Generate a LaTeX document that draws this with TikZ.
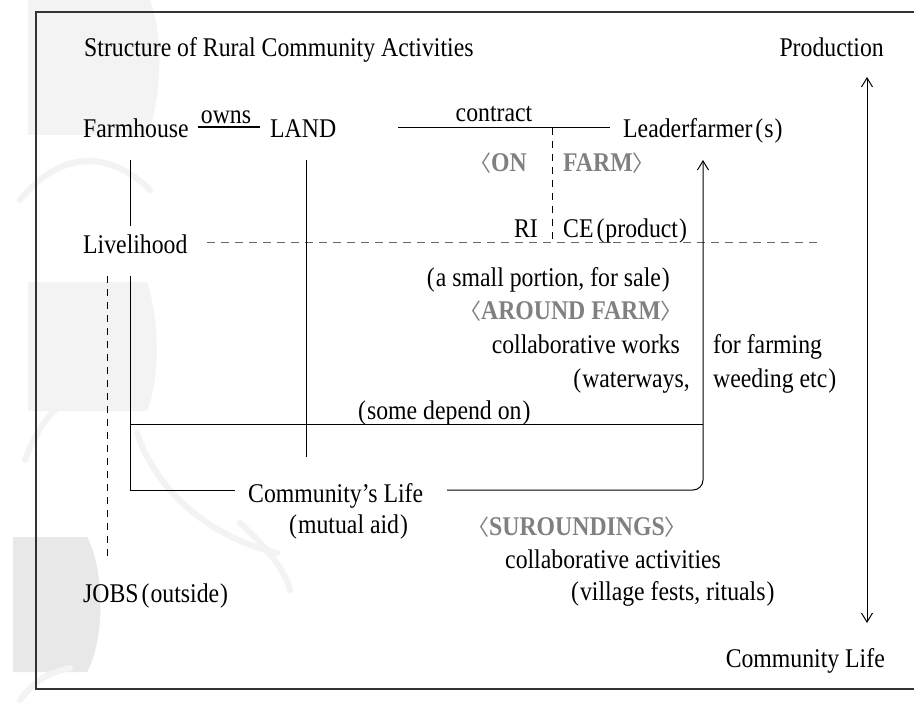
\documentclass[tikz,border=0pt]{standalone}
\usepackage{fontspec}
\setmainfont{Liberation Serif}[FakeStretch=0.88]
\newfontfamily\cjk{Noto Sans CJK JP}
\usetikzlibrary{arrows.meta}

\definecolor{labgray}{HTML}{808080}
\definecolor{framegray}{HTML}{333333}
\definecolor{wmark}{HTML}{F3F3F3}
\definecolor{wmarkdark}{HTML}{E8E8E8}

% bracket and parenthesis helpers
\newcommand{\fwl}{\hspace{3pt}(\hspace{1pt}}
\newcommand{\fwr}{\hspace{1pt})\hspace{3pt}}
\newcommand{\abl}{{\cjk\mdseries\fontsize{22}{26}\selectfont 〈}}
\newcommand{\abr}{{\cjk\mdseries\fontsize{22}{26}\selectfont 〉}}

\tikzset{
  txt/.style={inner sep=0pt, anchor=base west, font=\fontsize{27}{30}\selectfont},
  lab/.style={txt, text=labgray, font=\fontsize{27}{30}\selectfont\bfseries},
  ln/.style={line width=1pt, black},
  ownsln/.style={line width=2.4pt, black},
  dashblk/.style={line width=1pt, black, dash pattern=on 7pt off 6pt},
  dashgry/.style={line width=1pt, black!60, dash pattern=on 8pt off 6pt},
  barb/.tip={Straight Barb[length=9pt, width=11pt, line width=1pt]},
  framestyle/.style={line width=1.3pt, framegray},
  wm/.style={fill=wmark, draw=none},
  wmline/.style={draw=wmark, line width=6pt, line cap=round},
}

\begin{document}
\begin{tikzpicture}[x=1pt, y=-1pt]
\useasboundingbox (0,0) rectangle (914,706);
\fill[white] (0,0) rectangle (914,706);

% faint background ornaments on the left margin
\fill[wm] (28,0) -- (150,0) .. controls (165,40) and (160,100) .. (148,135) -- (28,135) -- cycle;
\fill[wm] (28,282) -- (147,282) .. controls (160,320) and (160,380) .. (147,411) -- (28,411) -- cycle;
\fill[wmarkdark] (13,537) -- (87,537) .. controls (105,570) and (105,640) .. (87,672) -- (13,672) -- cycle;
\draw[wmline] (20,200) .. controls (60,150) and (110,150) .. (150,190);
\draw[wmline] (137,433) .. controls (160,500) and (220,540) .. (277,553);
\draw[wmline] (240,523) .. controls (265,545) and (285,570) .. (290,590);
\draw[wmline] (25,460) .. controls (40,420) and (60,400) .. (80,395);
\draw[wmline] (20,700) .. controls (35,680) and (50,672) .. (70,668);

% open frame
\draw[framestyle] (914,12) -- (36,12) -- (36,689) -- (914,689);

% texts
\node[txt] (title) at (84,57) {Structure of Rural Community Activities};
\node[txt, anchor=base east] (prod) at (884,57) {Production};
\node[txt, anchor=base east] (clife) at (885,667) {Community Life};

\node[txt] (farm) at (83,138) {Farmhouse};
\node[txt, anchor=base] (owns) at (226,124) {owns};
\node[txt] (land) at (270,138) {LAND};
\node[txt, anchor=base] (contract) at (494,122) {contract};
\node[txt] (leader) at (623,138) {Leaderfarmer\fwl s\fwr};

\node[lab, anchor=base east] (onl) at (527,172) {\abl ON};
\node[lab] (onr) at (563,172) {FARM\abr};
\node[txt, anchor=base east] (ri) at (538,237) {RI};
\node[txt] (ce) at (563,237) {CE\fwl product\fwr};

\node[txt] (live) at (83,254) {Livelihood};

\node[txt, anchor=base east] (sale) at (670,287) {\fwl a small portion, for sale\fwr};
\node[lab, anchor=base east] (around) at (683,319) {\abl AROUND FARM\abr};
\node[txt, anchor=base east] (collw) at (680,353) {collaborative works};
\node[txt] (forf) at (713,353) {for farming};
\node[txt, anchor=base east] (water) at (690,387) {\fwl waterways,};
\node[txt] (weed) at (713,387) {weeding etc\fwr};
\node[txt] (some) at (355,419) {\fwl some depend on\fwr};

\node[txt] (comm) at (248,502) {Community's Life};
\node[txt] (mutual) at (286,533) {\fwl mutual aid\fwr};
\node[lab] (sur) at (467,535) {\abl SUROUNDINGS\abr};
\node[txt] (colla) at (505,568) {collaborative activities};
\node[txt] (village) at (568,600) {\fwl village fests, rituals\fwr};
\node[txt] (jobs) at (83,602) {JOBS\fwl outside\fwr};

% connector end points
\coordinate (ownsA) at (198,127);
\coordinate (ownsB) at (260,127);
\coordinate (conA) at (398,128);
\coordinate (conB) at (610,128);
\coordinate (onTop) at (552,128);
\coordinate (onBot) at (552,243);
\coordinate (divA) at (207,243);
\coordinate (divB) at (820,243);
\coordinate (fhA) at (130,160);
\coordinate (fhB) at (130,226);
\coordinate (lvA) at (130,276);
\coordinate (lvB) at (130,490);
\coordinate (cmL) at (235,490);
\coordinate (cmR) at (447,490);
\coordinate (depR) at (703,424);
\coordinate (ldTip) at (703,160);
\coordinate (ldCorner) at (703,490);
\coordinate (landA) at (306,160);
\coordinate (landB) at (306,457);
\coordinate (jobA) at (107,276);
\coordinate (jobB) at (107,557);
\coordinate (prodTip) at (867,77);
\coordinate (clTip) at (867,623);

% Farmhouse - owns - LAND
\draw[ownsln] (ownsA) -- (ownsB);
% contract line towards the leader farmer
\draw[ln] (conA) -- (conB);
\draw[dashblk] (onTop) -- (onBot);
% livelihood divider
\draw[dashgry] (divA) -- (divB);

% Farmhouse -> Livelihood -> community
\draw[ln] (fhA) -- (fhB);
\draw[ln] (lvA) -- (lvB) -- (cmL);
\draw[ln] (lvA |- depR) -- (depR);
\draw[ln] (landA) -- (landB);
\draw[dashblk] (jobA) -- (jobB);

% community life up to the leader farmer
\draw[ln, -{barb}, rounded corners=10pt] (cmR) -- (ldCorner) -- (ldTip);

% production / community life axis
\draw[ln, {barb}-{barb}] (prodTip) -- (clTip);
\end{tikzpicture}
\end{document}
